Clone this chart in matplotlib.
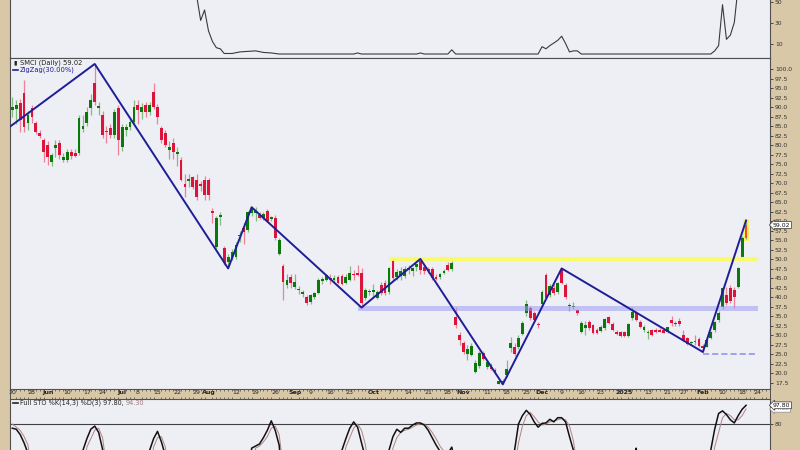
import matplotlib
matplotlib.use('Agg')
import matplotlib.pyplot as plt
import numpy as np
import pandas as pd

# ---------------- data ----------------
holidays = ['2024-05-27', '2024-06-19', '2024-07-04', '2024-09-02', '2024-11-28',
            '2024-12-25', '2025-01-01', '2025-01-09', '2025-01-20', '2025-02-17']
dates = pd.bdate_range('2024-05-20', '2025-02-28', freq='C', holidays=holidays)

opens = [
    89.3, 89.5, 91.0, 93.8, 85.9, 89.8, 85.9, 83.2, 81.4, 80.0,
    75.6, 79.3, 80.6, 76.1, 76.1, 78.2, 78.0, 78.0, 84.3, 85.9,
    89.8, 96.4, 89.9, 88.0, 83.8, 84.5, 82.7, 89.8, 79.5, 84.0,
    84.8, 86.1, 90.6, 88.8, 90.6, 88.8, 94.0, 90.2, 84.5, 83.2,
    78.7, 80.6, 77.6, 76.1, 69.8, 70.6, 71.7, 70.9, 69.8, 70.9,
    70.9, 62.8, 53.3, 61.0, 53.0, 49.2, 50.4, 50.7, 56.0, 58.3,
    57.7, 62.2, 62.2, 61.6, 60.9, 62.8, 60.5, 60.8, 51.4, 48.2,
    43.3, 45.4, 42.7, 42.0, 41.0, 40.2, 38.8, 40.2, 41.2, 44.4,
    44.6, 45.2, 44.6, 45.4, 45.6, 43.8, 44.6, 46.2, 46.5, 46.3,
    39.8, 41.3, 41.5, 39.8, 43.2, 43.7, 41.4, 49.6, 45.4, 45.6,
    45.6, 47.8, 47.0, 48.0, 49.8, 48.0, 47.5, 47.5, 45.3, 45.3,
    46.4, 48.5, 47.5, 34.8, 30.0, 28.0, 25.0, 24.8, 20.3, 21.9,
    25.3, 21.7, 22.2, 20.9, 17.3, 18.0, 19.5, 26.7, 27.0, 27.0,
    30.4, 35.9, 37.2, 35.9, 33.0, 38.3, 45.9, 40.5, 42.5, 41.4,
    47.2, 43.2, 37.8, 37.4, 36.7, 30.9, 32.0, 33.5, 32.7, 31.4,
    31.2, 32.0, 34.9, 33.0, 30.9, 30.9, 30.8, 29.8, 34.5, 35.9,
    33.5, 31.5, 30.6, 31.4, 31.4, 31.5, 31.5, 30.9, 34.0, 33.0,
    33.8, 30.0, 29.2, 28.0, 28.5, 29.0, 27.3, 27.0, 29.3, 31.4,
    34.0, 37.5, 40.6, 42.5, 42.0, 42.7, 50.7, 55.7]
highs = [
    92.8, 92.0, 92.3, 97.2, 89.0, 90.5, 86.5, 84.0, 82.0, 81.0,
    78.0, 81.5, 81.5, 78.0, 79.0, 79.0, 79.0, 88.0, 88.0, 90.0,
    93.5, 101.4, 91.5, 89.0, 85.0, 85.5, 89.5, 90.5, 85.5, 85.5,
    87.0, 92.0, 92.0, 91.0, 91.5, 91.5, 96.4, 90.8, 85.0, 84.0,
    81.0, 82.0, 79.5, 77.0, 72.5, 72.5, 72.0, 72.5, 70.5, 72.0,
    71.5, 63.5, 61.3, 62.5, 53.5, 51.5, 52.8, 54.5, 57.5, 59.5,
    62.8, 63.7, 63.7, 62.5, 62.4, 63.3, 61.5, 61.7, 55.5, 48.8,
    46.0, 46.0, 46.2, 43.0, 42.0, 40.6, 41.0, 41.5, 45.0, 45.3,
    46.0, 46.0, 45.8, 45.8, 46.0, 46.0, 48.2, 47.2, 48.5, 47.8,
    42.5, 42.2, 43.5, 42.0, 44.0, 44.5, 48.0, 50.0, 47.5, 48.0,
    48.2, 48.5, 48.0, 49.0, 50.1, 48.5, 48.0, 48.0, 46.0, 46.5,
    47.5, 49.2, 49.5, 37.5, 31.0, 28.5, 27.5, 28.0, 23.5, 25.8,
    25.8, 23.5, 22.8, 21.3, 18.3, 18.5, 23.5, 29.5, 28.0, 30.0,
    33.8, 39.3, 37.8, 36.5, 33.5, 42.0, 46.5, 43.5, 43.5, 44.0,
    47.6, 43.8, 38.5, 38.8, 37.0, 33.8, 33.8, 34.0, 33.0, 31.8,
    32.6, 34.6, 35.2, 33.5, 31.3, 31.2, 31.2, 33.3, 37.5, 36.3,
    33.9, 32.6, 31.5, 31.6, 31.8, 31.8, 31.8, 32.3, 35.0, 33.8,
    34.5, 31.5, 29.5, 28.5, 30.0, 29.5, 27.8, 29.3, 31.2, 33.8,
    36.5, 42.8, 42.7, 43.3, 42.8, 48.0, 56.0, 60.3]
lows = [
    87.5, 85.5, 83.5, 83.6, 84.0, 85.9, 83.0, 82.0, 75.6, 74.8,
    74.5, 77.0, 76.5, 75.5, 75.5, 76.5, 76.8, 77.5, 83.5, 85.0,
    88.0, 90.5, 88.0, 82.0, 80.5, 82.0, 82.0, 77.5, 78.5, 82.5,
    84.0, 85.5, 85.5, 87.0, 87.5, 88.0, 89.5, 85.5, 80.5, 79.5,
    76.5, 76.5, 74.5, 70.5, 66.5, 69.0, 68.5, 65.5, 68.0, 65.6,
    65.6, 59.6, 52.8, 59.0, 48.5, 47.6, 49.8, 50.2, 54.5, 54.0,
    57.2, 61.5, 60.0, 60.5, 60.3, 59.8, 60.0, 55.0, 51.0, 39.3,
    42.5, 42.5, 42.2, 41.0, 40.0, 37.9, 38.2, 39.5, 41.0, 43.5,
    44.2, 43.5, 43.8, 43.5, 43.2, 43.5, 44.2, 44.5, 45.5, 37.3,
    39.2, 40.5, 40.0, 39.5, 40.5, 40.5, 41.0, 44.5, 44.5, 44.5,
    45.0, 46.0, 45.5, 46.8, 46.0, 46.0, 46.5, 44.5, 44.5, 44.8,
    46.0, 47.0, 47.0, 32.0, 27.5, 25.2, 23.5, 24.5, 20.0, 21.5,
    23.5, 21.2, 20.8, 19.7, 17.3, 17.1, 19.0, 25.5, 24.5, 26.5,
    30.0, 35.0, 34.0, 33.5, 32.0, 37.5, 39.5, 40.0, 40.5, 41.0,
    43.5, 39.5, 36.3, 36.8, 35.3, 30.5, 30.0, 31.5, 30.3, 30.3,
    30.8, 31.5, 33.0, 31.2, 30.0, 29.6, 29.6, 29.5, 34.0, 33.8,
    32.0, 31.0, 29.0, 29.8, 30.6, 30.8, 30.5, 30.5, 32.5, 32.5,
    32.5, 28.5, 27.5, 27.8, 27.5, 26.8, 25.6, 26.8, 29.0, 31.0,
    33.5, 37.0, 38.0, 38.5, 37.2, 42.5, 50.5, 55.3]
closes = [
    90.2, 90.6, 86.7, 84.8, 88.0, 87.4, 83.5, 82.4, 78.2, 76.9,
    77.5, 80.0, 77.5, 76.9, 78.2, 77.2, 77.3, 87.2, 85.0, 88.8,
    91.9, 91.4, 90.4, 82.7, 83.5, 82.7, 88.8, 81.4, 84.8, 84.8,
    86.1, 90.1, 89.3, 90.0, 88.8, 90.6, 90.2, 87.5, 81.4, 80.1,
    79.5, 78.2, 78.2, 70.9, 69.1, 71.2, 69.0, 66.4, 69.2, 67.0,
    67.0, 62.3, 60.9, 61.6, 49.1, 50.6, 52.0, 53.8, 56.4, 57.2,
    62.4, 63.2, 62.6, 60.9, 62.0, 60.2, 61.0, 55.6, 55.1, 44.0,
    44.6, 43.8, 44.0, 42.3, 41.3, 38.4, 40.6, 41.2, 44.6, 44.7,
    45.8, 44.5, 45.0, 43.8, 43.6, 45.4, 46.4, 45.9, 45.9, 38.5,
    42.0, 41.6, 42.0, 41.4, 41.1, 41.1, 47.8, 45.0, 46.7, 46.8,
    47.5, 47.2, 47.6, 48.7, 47.2, 46.9, 47.0, 45.1, 44.9, 46.1,
    46.9, 47.2, 49.0, 32.7, 28.8, 25.6, 26.5, 27.2, 22.7, 25.3,
    23.8, 23.0, 21.1, 20.1, 17.9, 17.6, 21.1, 28.0, 25.1, 29.3,
    33.3, 38.3, 34.6, 34.0, 32.7, 41.4, 39.8, 43.0, 41.1, 43.7,
    43.7, 40.1, 38.0, 37.6, 35.9, 33.3, 32.8, 31.9, 30.6, 30.6,
    32.3, 34.4, 33.3, 31.4, 30.3, 29.8, 29.9, 33.0, 36.2, 34.0,
    32.2, 32.1, 30.9, 30.1, 30.8, 31.0, 30.7, 32.2, 33.3, 33.2,
    33.0, 28.8, 27.7, 28.3, 28.2, 27.1, 26.7, 28.8, 30.9, 33.6,
    35.9, 42.4, 38.5, 39.0, 40.0, 47.7, 55.6, 59.02]

zigzag_days = [-1, 21, 55, 61, 89, 104, 125, 140, 176, 187]
zigzag_prices = [84.6, 101.4, 47.6, 63.7, 37.3, 50.1, 17.1, 47.6, 25.6, 60.2]
resistance = 50.0
support_band = (36.3, 37.8)
low_level = 25.0

# top indicator panel
ind_days = [0, 46, 47, 48, 49, 50, 51, 52, 53, 54, 56, 58, 60, 62, 64, 66, 68,
            87, 88, 89, 103, 104, 105, 111, 112, 113, 134, 135, 136, 137, 139,
            140, 141, 142, 143, 144, 145, 178, 179, 180, 181, 182, 183, 184, 185, 187]
ind_vals = [70, 70, 55, 32, 42, 22, 12, 6, 5, 0.5, 0.5, 2, 2.5, 3, 1.5, 1, 0,
            0, 1, 0, 0, 1, 0, 0, 4, 0, 0, 7, 5, 8, 13,
            17, 10, 2, 3, 3, 0, 0, 3, 8, 47, 14, 18, 30, 65, 80]

# Full STO %K / %D
k_days = [0, 1, 2, 3, 4, 5, 17, 18, 19, 20, 21, 22, 23, 24, 34, 35, 36, 37, 38, 39, 40,
          60, 61, 62, 63, 64, 65, 66, 67, 68, 69, 83, 84, 85, 86, 87, 88, 89, 90, 91,
          95, 96, 97, 98, 99, 100, 101, 102, 103, 104, 105, 106, 107, 108, 109, 110,
          111, 112, 113, 114, 127, 128, 129, 130, 131, 132, 133, 134, 135, 136, 137,
          138, 139, 140, 141, 142, 143, 144, 158, 159, 160, 176, 177, 178, 179, 180,
          181, 182, 183, 184, 185, 186, 187]
k_vals = [76, 75, 70, 62, 52, 25, 25, 55, 66, 75, 78, 72, 56, 25, 25, 55, 66, 73, 63, 50, 25,
          25, 57, 59, 61, 67, 74, 83, 74, 60, 20, 20, 55, 66, 76, 82, 77, 62, 48, 25,
          25, 55, 68, 75, 72, 76, 76, 79, 81, 81, 79, 74, 67, 60, 54, 50,
          52, 58, 40, 20, 30, 55, 80, 88, 93, 89, 82, 77, 80.6, 81, 84.5,
          82, 86, 86, 82, 68, 55, 30, 30, 57, 30, 20, 35, 55, 75, 90,
          92.5, 89, 84, 81, 88, 94, 97.8]
d_days = [0, 1, 2, 3, 4, 5, 18, 19, 20, 21, 22, 23, 24, 35, 36, 37, 38, 39, 40,
          61, 62, 63, 64, 65, 66, 67, 68, 69, 84, 85, 86, 87, 88, 89, 90, 91,
          96, 97, 98, 99, 100, 101, 102, 103, 104, 105, 106, 107, 108, 109, 110, 111,
          112, 113, 114, 127, 128, 129, 130, 131, 132, 133, 134, 135, 136, 137, 138,
          139, 140, 141, 142, 143, 144, 159, 160, 161, 177, 178, 179, 180, 181, 182,
          183, 184, 185, 186, 187]
d_vals = [80, 77, 74, 68, 60, 30, 30, 58, 66, 74, 76, 67, 40, 30, 58, 67, 68, 58, 30,
          30, 57, 59, 63, 68, 76, 78, 70, 40, 30, 58, 67, 76, 80, 74, 60, 35,
          30, 57, 67, 72, 74, 75, 77, 79, 80, 80, 77, 72, 66, 59, 54, 52,
          54, 50, 30, 25, 40, 62, 78, 88, 91, 87, 82, 79, 80, 82, 83,
          84, 85, 84, 78, 64, 40, 30, 55, 30, 25, 40, 58, 72, 86, 90,
          88, 84, 84, 88, 94.3]

tick_dates = ['2024-05-20', '2024-05-28', '2024-06-03', '2024-06-10', '2024-06-17',
              '2024-06-24', '2024-07-01', '2024-07-08', '2024-07-15', '2024-07-22',
              '2024-07-29', '2024-08-01', '2024-08-12', '2024-08-19', '2024-08-26',
              '2024-09-03', '2024-09-09', '2024-09-16', '2024-09-23', '2024-10-01',
              '2024-10-07', '2024-10-14', '2024-10-21', '2024-10-28', '2024-11-01',
              '2024-11-11', '2024-11-18', '2024-11-25', '2024-12-02', '2024-12-09',
              '2024-12-16', '2024-12-23', '2025-01-02', '2025-01-13', '2025-01-21',
              '2025-01-27', '2025-02-03', '2025-02-10', '2025-02-18', '2025-02-24']
tick_text = ['20', '28', 'Jun', '10', '17', '24', 'Jul', '8', '15', '22', '29', 'Aug',
             '12', '19', '26', 'Sep', '9', '16', '23', 'Oct', '7', '14', '21', '28',
             'Nov', '11', '18', '25', 'Dec', '9', '16', '23', '2025', '13', '21', '27',
             'Feb', '10', '18', '24']

# ---------------- style ----------------
tan = '#d8c8a8'
panel_bg = '#eeeef5'
edge = '#505050'
txt = '#333333'
up_col, dn_col = '#0a780a', '#dc143c'
up_wick, dn_wick = '#80bc80', '#ee8098'
x_lo, x_hi = -0.59, 193.1

fig = plt.figure(figsize=(8, 4.5), dpi=100, facecolor=tan)


def panel(rect, ylim):
    ax = fig.add_axes(rect, facecolor=panel_bg)
    ax.set_xlim(x_lo, x_hi)
    ax.set_ylim(*ylim)
    for s in ax.spines.values():
        s.set_color(edge)
        s.set_linewidth(0.8)
    ax.yaxis.tick_right()
    ax.set_xticks([])
    ax.tick_params(axis='y', direction='out', length=2, width=0.6, pad=1.5,
                   labelsize=4.3, colors=txt)
    return ax


# top indicator panel
ax_t = panel([0.0125, 392 / 450, 0.95, 68 / 450], (-3.8, 61))
ax_t.plot(ind_days, ind_vals, color='#3a3a3a', lw=0.8)
ax_t.set_yticks([10, 30, 50])

# main price panel
ax = panel([0.0125, 61 / 450, 0.95, 331 / 450], (15.87, 102.97))
ax.set_yticks(np.arange(17.5, 100.1, 2.5))
ax.set_yticklabels(['%.1f' % v for v in np.arange(17.5, 100.1, 2.5)])

days = np.arange(len(closes))
o, h, l, c = (np.array(a) for a in (opens, highs, lows, closes))
up = c >= o
body_col = np.where(up, up_col, dn_col)
wick_col = np.where(up, up_wick, dn_wick)

# highlight behind the last bar
ax.bar(days[-1], h[-1] - l[-1] + 0.8, bottom=l[-1] - 0.4, width=1.4,
       color='#fff060', zorder=1)
ax.vlines(days, l, h, colors=wick_col, lw=0.9, zorder=2)
ax.bar(days, np.maximum(np.abs(c - o), 0.2), bottom=np.minimum(o, c), width=0.72,
       color=body_col, lw=0, zorder=3)
ax.bar(days[-1], c[-1] - o[-1], bottom=o[-1], width=0.4, color='#f05030', zorder=4)

# annotations: resistance line, support band, low line
ax.hlines(resistance, 96, 190, color='#ffff40', lw=3, alpha=0.75, zorder=5)
ax.fill_between([88, 190], support_band[0], support_band[1], color='#9c9cf4',
                alpha=0.55, lw=0, zorder=5)
ax.hlines(low_level, 176, 190, color='#8c8cf0', lw=1.1, linestyles=(0, (4, 2)), zorder=5)
ax.plot(zigzag_days, zigzag_prices, color='#1e1e96', lw=1.4, zorder=6)

ax.text(0.004, 0.985, '\u25ae', transform=ax.transAxes, fontsize=4.5, color='#222',
        va='center', ha='left')
ax.text(0.013, 0.985, 'SMCI (Daily) 59.02', transform=ax.transAxes, fontsize=4.9,
        color='#222', va='center', ha='left')
ax.plot([0.004, 0.011], [0.964, 0.964], transform=ax.transAxes, color='#1e1e96', lw=1.2)
ax.text(0.013, 0.964, 'ZigZag(30.00%)', transform=ax.transAxes, fontsize=4.9,
        color='#1e1e96', va='center', ha='left')
ax.text(1.004, c[-1], '59.02', transform=ax.get_yaxis_transform(), fontsize=4.4,
        color='#111', va='center', ha='left', zorder=10, clip_on=False,
        bbox=dict(boxstyle='larrow,pad=0.15', fc='white', ec='#333', lw=0.5))

# date strip
ax_d = fig.add_axes([0.0125, 51 / 450, 0.95, 10 / 450], facecolor=tan)
ax_d.set_xlim(x_lo, x_hi)
ax_d.set_yticks([])
for s in ax_d.spines.values():
    s.set_color(edge)
    s.set_linewidth(0.7)
tick_pos = [dates.get_loc(pd.Timestamp(d)) for d in tick_dates]
ax_d.set_xticks(tick_pos)
ax_d.set_xticklabels(tick_text)
ax_d.set_xticks(np.arange(0, 194), minor=True)
ax_d.tick_params(axis='x', which='major', length=0, pad=-6.2, labelsize=4.5, colors='#222')
ax_d.tick_params(axis='x', which='minor', direction='in', length=1.6, width=0.5,
                 top=True, bottom=True, colors='#444')
for lab in ax_d.get_xticklabels():
    if not lab.get_text().isdigit() or lab.get_text() == '2025':
        lab.set_fontweight('bold')

# stochastic panel
ax_s = panel([0.0125, -20 / 450, 0.95, 71 / 450], (36.2, 103.8))
ax_s.axhline(80, color='#404040', lw=0.8)
ax_s.plot(d_days, d_vals, color='#b08484', lw=0.7)
ax_s.plot(k_days, k_vals, color='#111111', lw=1.1)
ax_s.set_yticks([80])
ax_s.plot([0.004, 0.011], [0.944, 0.944], transform=ax_s.transAxes, color='#222', lw=1.2)
t1 = ax_s.text(0.013, 0.944, 'Full STO %K(14,3) %D(3) 97.80, ', transform=ax_s.transAxes,
               fontsize=4.7, color='#222', va='center', ha='left')
ax_s.annotate('94.30', xy=(1, 0), xycoords=t1, fontsize=4.7, color='#a07878',
              va='bottom', ha='left')
ax_s.text(1.004, 94.3, '94.30', transform=ax_s.get_yaxis_transform(), fontsize=4.2,
          color='#a07878', va='center', ha='left', clip_on=False,
          bbox=dict(boxstyle='larrow,pad=0.12', fc='white', ec='#888', lw=0.5))
ax_s.text(1.004, 97.8, '97.80', transform=ax_s.get_yaxis_transform(), fontsize=4.4,
          color='#111', va='center', ha='left', clip_on=False,
          bbox=dict(boxstyle='larrow,pad=0.15', fc='white', ec='#333', lw=0.5))

fig.savefig('out.png', dpi=100, facecolor=tan)
